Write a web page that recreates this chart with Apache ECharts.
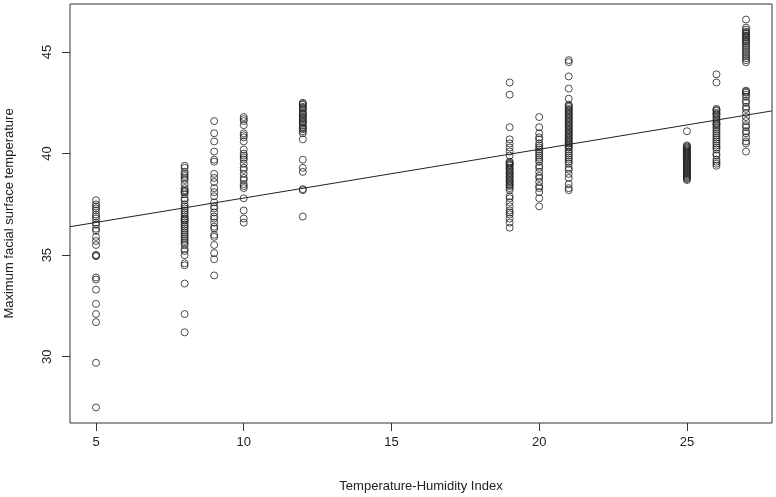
<!DOCTYPE html>
<html>
<head>
<meta charset="utf-8">
<script src="https://cdn.jsdelivr.net/npm/echarts@6/dist/echarts.min.js"></script>
<style>html,body{margin:0;padding:0;background:#fff}#c{width:776px;height:497px}</style>
</head>
<body>
<div id="c"></div>
<script>
// THI columns and measured max facial surface temperature at each
const thi5  = [37.7, 37.5, 37.4, 37.3, 37.2, 37.0, 36.9, 36.8, 36.6, 36.5, 36.3, 36.2, 35.9, 35.7, 35.5, 35.0, 35.0, 34.95, 33.9, 33.8, 33.3, 32.6, 32.1, 31.7, 29.7, 27.5];
const thi8  = [39.4, 39.3, 39.1, 39.0, 38.9, 38.8, 38.7, 38.5, 38.3, 38.2, 38.15, 38.1, 38.0, 37.8, 37.7, 37.5, 37.4, 37.3, 37.2, 37.1, 37.0, 36.9, 36.8, 36.75, 36.7, 36.6, 36.5, 36.4, 36.3, 36.2, 36.1, 36.0, 35.9, 35.8, 35.7, 35.6, 35.5, 35.3, 35.2, 35.0, 34.6, 34.5, 33.6, 32.1, 31.2];
const thi9  = [41.6, 41.0, 40.6, 40.1, 39.7, 39.6, 39.0, 38.8, 38.6, 38.3, 38.1, 37.9, 37.6, 37.4, 37.3, 37.1, 36.9, 36.8, 36.6, 36.4, 36.3, 36.0, 35.9, 35.5, 35.1, 34.8, 34.0];
const thi10 = [41.8, 41.7, 41.6, 41.4, 41.0, 40.9, 40.8, 40.6, 40.2, 40.0, 39.9, 39.8, 39.7, 39.5, 39.3, 39.2, 39.0, 38.8, 38.7, 38.5, 38.4, 38.3, 37.8, 37.2, 36.8, 36.6];
const thi12 = [42.5, 42.45, 42.4, 42.3, 42.25, 42.2, 42.1, 42.0, 41.95, 41.9, 41.8, 41.75, 41.7, 41.6, 41.55, 41.5, 41.4, 41.3, 41.25, 41.2, 41.1, 41.0, 40.7, 39.7, 39.3, 39.1, 38.25, 38.2, 36.9];
const thi19 = [43.5, 42.9, 41.3, 40.7, 40.5, 40.3, 40.1, 39.9, 39.6, 39.55, 39.5, 39.45, 39.4, 39.3, 39.25, 39.2, 39.1, 39.05, 39.0, 38.9, 38.85, 38.8, 38.7, 38.65, 38.6, 38.5, 38.45, 38.4, 38.3, 38.2, 37.9, 37.8, 37.6, 37.4, 37.2, 37.1, 37.0, 36.8, 36.6, 36.35];
const thi20 = [41.8, 41.3, 41.0, 40.8, 40.7, 40.5, 40.4, 40.3, 40.2, 40.1, 40.0, 39.9, 39.8, 39.7, 39.6, 39.4, 39.3, 39.1, 38.9, 38.8, 38.6, 38.4, 38.3, 38.1, 37.8, 37.4];
const thi21 = [44.6, 44.5, 43.8, 43.2, 42.7, 42.4, 42.35, 42.3, 42.2, 42.15, 42.1, 42.0, 41.95, 41.9, 41.8, 41.75, 41.7, 41.6, 41.55, 41.5, 41.4, 41.35, 41.3, 41.2, 41.15, 41.1, 41.0, 40.95, 40.9, 40.8, 40.75, 40.7, 40.6, 40.55, 40.5, 40.4, 40.35, 40.3, 40.2, 40.1, 40.0, 39.9, 39.8, 39.7, 39.6, 39.5, 39.3, 39.2, 39.0, 38.8, 38.5, 38.3, 38.2];
const thi25 = [41.1, 40.4, 40.35, 40.3, 40.25, 40.2, 40.15, 40.1, 40.05, 40.0, 39.95, 39.9, 39.85, 39.8, 39.75, 39.7, 39.65, 39.6, 39.55, 39.5, 39.45, 39.4, 39.35, 39.3, 39.25, 39.2, 39.15, 39.1, 39.05, 39.0, 38.95, 38.9, 38.85, 38.8, 38.75, 38.7];
const thi26 = [43.9, 43.5, 42.2, 42.15, 42.1, 42.0, 41.95, 41.9, 41.8, 41.7, 41.6, 41.5, 41.45, 41.4, 41.3, 41.2, 41.1, 41.0, 40.9, 40.8, 40.7, 40.6, 40.5, 40.4, 40.3, 40.2, 40.0, 39.9, 39.7, 39.6, 39.5, 39.4];
const thi27 = [46.6, 46.2, 46.1, 46.0, 45.95, 45.9, 45.8, 45.75, 45.7, 45.6, 45.55, 45.5, 45.4, 45.3, 45.2, 45.1, 45.0, 44.9, 44.8, 44.7, 44.6, 44.5, 43.1, 43.05, 43.0, 42.9, 42.8, 42.6, 42.5, 42.3, 42.2, 42.0, 41.8, 41.6, 41.4, 41.3, 41.1, 41.0, 40.8, 40.6, 40.5, 40.1];

const columns = [[5, thi5], [8, thi8], [9, thi9], [10, thi10], [12, thi12], [19, thi19], [20, thi20], [21, thi21], [25, thi25], [26, thi26], [27, thi27]];

// fitted regression line
const fitIntercept = 35.41;
const fitSlope = 0.24;

const xTicks = [5, 10, 15, 20, 25];
const yTicks = [30, 35, 40, 45];
const xLabel = 'Temperature-Humidity Index';
const yLabel = 'Maximum facial surface temperature';

// R-style axis limits: data range extended by 4%
const xMin = 5, xMax = 27, yMin = 27.5, yMax = 46.6;
const xPad = (xMax - xMin) * 0.04, yPad = (yMax - yMin) * 0.04;
const xLo = xMin - xPad, xHi = xMax + xPad;
const yLo = yMin - yPad, yHi = yMax + yPad;

const points = [];
columns.forEach(([x, ys]) => ys.forEach(y => points.push([x, y])));
const fitLine = [xLo, xHi].map(x => [x, fitIntercept + fitSlope * x]);

const font = 'Liberation Sans, Arial, sans-serif';
const chart = echarts.init(document.getElementById('c'), null, {renderer: 'canvas'});
chart.setOption({
  animation: false,
  backgroundColor: '#fff',
  grid: {left: 70, right: 4, top: 4, bottom: 74, outerBoundsMode: 'none', containLabel: false, show: true, borderColor: '#333', borderWidth: 1, backgroundColor: 'transparent'},
  xAxis: {
    type: 'value', min: xLo, max: xHi,
    axisLine: {show: false},
    splitLine: {show: false},
    axisTick: {show: true, length: 8, customValues: xTicks, lineStyle: {color: '#333'}},
    axisLabel: {customValues: xTicks, margin: 13, fontSize: 13, color: '#222', fontFamily: font},
    name: xLabel, nameLocation: 'middle', nameGap: 57,
    nameTextStyle: {fontSize: 13, color: '#222', fontFamily: font}
  },
  yAxis: {
    type: 'value', min: yLo, max: yHi,
    axisLine: {show: false},
    splitLine: {show: false},
    axisTick: {show: true, length: 8, customValues: yTicks, lineStyle: {color: '#333'}},
    axisLabel: {customValues: yTicks, rotate: 90, margin: 16, fontSize: 13, color: '#222', fontFamily: font},
    name: yLabel, nameLocation: 'middle', nameGap: 54, nameRotate: 90,
    nameTextStyle: {fontSize: 13, color: '#222', fontFamily: font}
  },
  series: [
    {
      type: 'scatter', data: points, symbol: 'circle', symbolSize: 7,
      itemStyle: {color: 'rgba(0,0,0,0)', borderColor: '#222', borderWidth: 1},
      silent: true
    },
    {
      type: 'line', data: fitLine, showSymbol: false, symbol: 'none',
      lineStyle: {color: '#222', width: 1}, silent: true
    }
  ]
});
</script>
</body>
</html>
